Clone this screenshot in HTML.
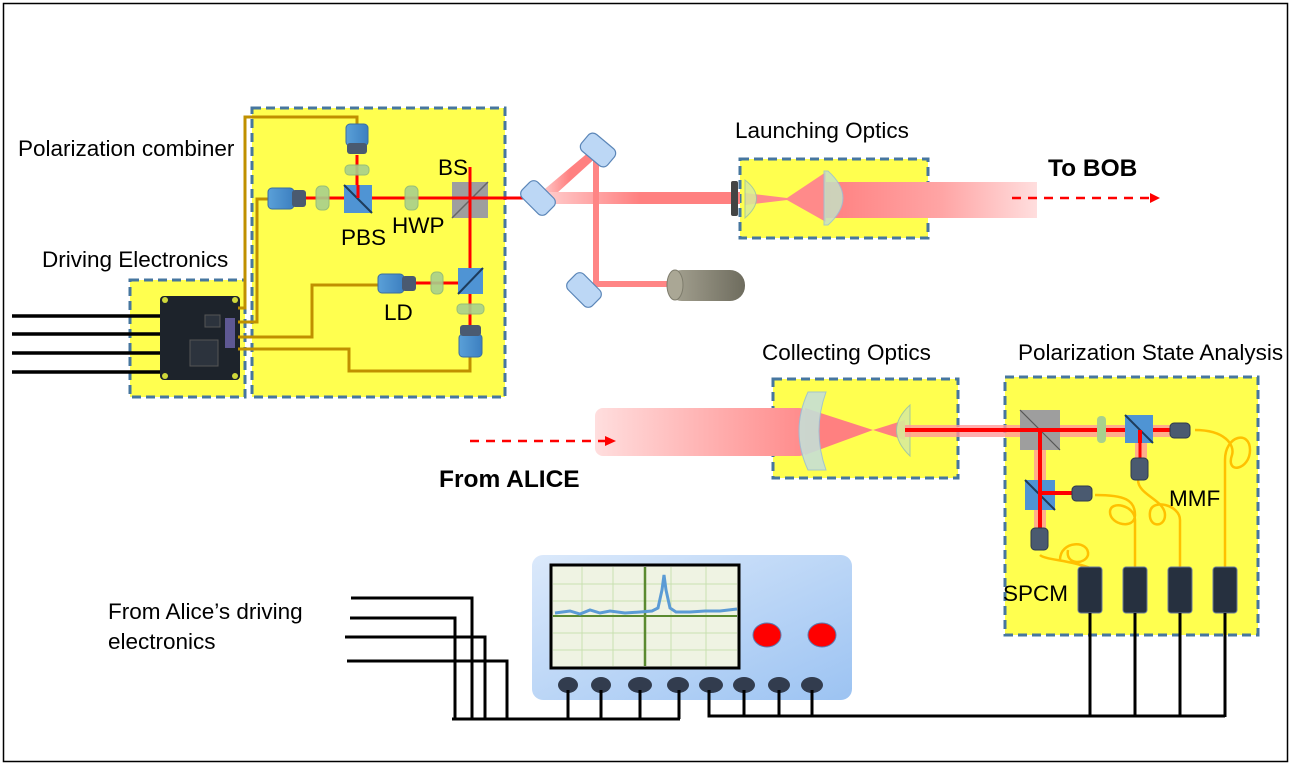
<!DOCTYPE html>
<html><head><meta charset="utf-8"><style>
html,body{margin:0;padding:0;background:#fff;}
svg{display:block;font-family:"Liberation Sans",sans-serif;}
</style></head><body>
<svg width="1290" height="776" viewBox="0 0 1290 776" xmlns="http://www.w3.org/2000/svg">
<defs>
<linearGradient id="fadeR" x1="0" x2="1"><stop offset="0" stop-color="#ff8080"/><stop offset="0.55" stop-color="#ffa5a5"/><stop offset="1" stop-color="#ffdede"/></linearGradient>
<linearGradient id="fadeL" x1="0" x2="1"><stop offset="0" stop-color="#ffdede"/><stop offset="1" stop-color="#ff8a8a"/></linearGradient>
<linearGradient id="pinkL" x1="0" x2="1"><stop offset="0" stop-color="#ffd0d0"/><stop offset="0.5" stop-color="#ff8080"/></linearGradient>
<linearGradient id="scope" x1="0" y1="0" x2="1" y2="1"><stop offset="0" stop-color="#dbe9fb"/><stop offset="1" stop-color="#9cc3f2"/></linearGradient>
<linearGradient id="cyl" x1="0" x2="1"><stop offset="0" stop-color="#a8a594"/><stop offset="1" stop-color="#6e6c5e"/></linearGradient>
<linearGradient id="det" x1="0" x2="1"><stop offset="0" stop-color="#5aa0d8"/><stop offset="1" stop-color="#3c7fc0"/></linearGradient>
</defs>
<rect x="3.5" y="3.5" width="1284" height="758" fill="#fff" stroke="#000" stroke-width="1.5"/>

<g fill="#ffff4f" stroke="#46769f" stroke-width="3" stroke-dasharray="9,5">
<rect x="130" y="280" width="115" height="117"/>
<rect x="252" y="108" width="253" height="289"/>
<rect x="740" y="159" width="188" height="79"/>
<rect x="773" y="379" width="185" height="99"/>
<rect x="1005" y="377" width="253" height="258"/>
</g>

<g stroke="#000" stroke-width="3.5">
<line x1="12" y1="316" x2="162" y2="316"/><line x1="12" y1="334" x2="162" y2="334"/>
<line x1="12" y1="353" x2="162" y2="353"/><line x1="12" y1="372" x2="162" y2="372"/>
</g>

<rect x="160" y="296" width="80" height="84" rx="4" fill="#1d232b"/>
<rect x="190" y="340" width="28" height="26" fill="#2c333d" stroke="#555" stroke-width="1"/>
<rect x="205" y="315" width="15" height="12" fill="#2c333d" stroke="#555" stroke-width="1"/>
<g fill="#cfd83a"><circle cx="165" cy="300" r="3"/><circle cx="235" cy="300" r="3"/><circle cx="165" cy="376" r="3"/><circle cx="235" cy="376" r="3"/></g>
<rect x="225" y="318" width="10" height="30" fill="#7a6fc0" opacity="0.7"/>

<g fill="none" stroke="#c09000" stroke-width="3">
<polyline points="238,308 245,308 245,117 357,117 357,127"/>
<polyline points="238,322 257,322 257,199 270,199"/>
<polyline points="238,337 312,337 312,285 380,285"/>
<polyline points="238,349 349,349 349,371 470,371 470,356"/>
</g>

<g stroke="#ff0000" stroke-width="3">
<line x1="305" y1="198" x2="540" y2="198"/>
<line x1="357" y1="155" x2="357" y2="198"/>
<line x1="470" y1="167" x2="470" y2="328"/>
<line x1="416" y1="283" x2="470" y2="283"/>
</g>
<rect x="346" y="124" width="22" height="22" rx="4" fill="url(#det)" stroke="#3a6ea0"/>
<rect x="347" y="143" width="20" height="11" rx="3" fill="#4a5a70"/>
<rect x="268" y="188" width="26" height="21" rx="4" fill="url(#det)" stroke="#3a6ea0"/>
<rect x="292" y="190" width="14" height="17" rx="3" fill="#4a5a70"/>
<rect x="378" y="274" width="26" height="19" rx="4" fill="url(#det)" stroke="#3a6ea0"/>
<rect x="402" y="276" width="14" height="15" rx="3" fill="#4a5a70"/>
<rect x="459" y="334" width="23" height="23" rx="4" fill="url(#det)" stroke="#3a6ea0"/>
<rect x="460" y="325" width="21" height="11" rx="3" fill="#4a5a70"/>
<g fill="#a8d08d" stroke="#8fb87a" opacity="0.9">
<rect x="316" y="186" width="13" height="24" rx="5"/>
<rect x="405" y="186" width="13" height="24" rx="5"/>
<rect x="345" y="165" width="24" height="10" rx="4"/>
<rect x="431" y="272" width="12" height="22" rx="5"/>
<rect x="457" y="304" width="27" height="10" rx="4"/>
</g>
<rect x="344" y="185" width="28" height="28" fill="#4f94d4"/>
<line x1="344" y1="185" x2="372" y2="213" stroke="#1e3c5c" stroke-width="2"/>
<rect x="458" y="268" width="25" height="26" fill="#4f94d4"/>
<line x1="458" y1="294" x2="483" y2="268" stroke="#1e3c5c" stroke-width="2"/>
<rect x="452" y="182" width="36" height="36" fill="#9e9e9e"/>
<line x1="452" y1="218" x2="488" y2="182" stroke="#666" stroke-width="1.5"/>
<g stroke="#ff0000" stroke-width="3"><line x1="452" y1="198" x2="540" y2="198"/><line x1="470" y1="182" x2="470" y2="218"/><line x1="358" y1="185" x2="358" y2="198"/></g>

<polygon points="540,193 596,146 600,154 546,203" fill="url(#pinkL)"/>
<rect x="540" y="192" width="200" height="12" fill="url(#pinkL)"/>
<rect x="593" y="150" width="6" height="136" fill="#ff8585"/>
<rect x="593" y="281" width="85" height="6" fill="#ff8585"/>
<g fill="#bcd7f5" stroke="#5b86b8" stroke-width="1.2">
<rect x="521" y="187" width="34" height="22" rx="6" transform="rotate(45 538 198)"/>
<rect x="581" y="139" width="34" height="22" rx="6" transform="rotate(40 598 150)"/>
<rect x="567" y="279" width="34" height="22" rx="6" transform="rotate(45 584 290)"/>
</g>
<rect x="667" y="270" width="78" height="31" rx="15" fill="url(#cyl)"/>
<ellipse cx="675" cy="285" rx="8" ry="15" fill="#aaa795" stroke="#7e7c6c"/>
<rect x="826" y="182" width="211" height="36" fill="url(#fadeR)"/>
<polygon points="745,193 787,198 826,172 826,222 787,200 745,205" fill="#ff8a8a"/>
<rect x="731" y="181" width="7" height="35" rx="2" fill="#444"/>
<path d="M745,180 Q768,198 745,218 Z" fill="#d9ec9a" stroke="#9bc3a8" opacity="0.85"/>
<path d="M828,171 Q858,198 828,225 L824,225 L824,171 Z" fill="#c5e0c4" stroke="#9bbfd8" opacity="0.85"/>
<line x1="1012" y1="198" x2="1150" y2="198" stroke="#ff0000" stroke-width="2.5" stroke-dasharray="9,7"/>
<polygon points="1160,198 1150,193 1150,203" fill="#ff0000"/>

<rect x="595" y="408" width="212" height="48" rx="8" fill="url(#fadeL)"/>
<polygon points="805,408 873,430 805,455" fill="#ff8080"/>
<polygon points="873,430 905,420 905,440" fill="#ff8080"/>
<path d="M808,392 Q790,431 808,470 L826,470 Q812,431 826,392 Z" fill="#c6dfd6" stroke="#9bbfd8" opacity="0.9"/>
<path d="M910,405 Q883,430 910,456 Z" fill="#d9ec9a" stroke="#9bc3a8" opacity="0.9"/>
<line x1="470" y1="441" x2="605" y2="441" stroke="#ff0000" stroke-width="2.5" stroke-dasharray="9,7"/>
<polygon points="616,441 605,436 605,446" fill="#ff0000"/>

<rect x="905" y="425" width="265" height="12" fill="#ff9a9a" opacity="0.8"/>
<line x1="905" y1="430" x2="1170" y2="430" stroke="#ff0000" stroke-width="4"/>
<rect x="1034" y="430" width="12" height="100" fill="#ff9a9a" opacity="0.8"/>
<line x1="1040" y1="430" x2="1040" y2="528" stroke="#ff0000" stroke-width="4"/>
<rect x="1135" y="430" width="12" height="28" fill="#ff9a9a" opacity="0.8"/>
<line x1="1140" y1="430" x2="1140" y2="458" stroke="#ff0000" stroke-width="3"/>
<line x1="1040" y1="493" x2="1072" y2="493" stroke="#ff0000" stroke-width="4"/>
<rect x="1020" y="410" width="40" height="40" fill="#9e9e9e"/>
<line x1="1020" y1="410" x2="1060" y2="450" stroke="#555" stroke-width="1.2"/>
<g stroke="#ff0000" stroke-width="4"><line x1="1020" y1="430" x2="1060" y2="430"/><line x1="1040" y1="430" x2="1040" y2="450"/></g>
<rect x="1097" y="416" width="9" height="27" rx="4" fill="#a8d08d"/>
<rect x="1125" y="415" width="28" height="28" fill="#4f94d4"/>
<line x1="1125" y1="415" x2="1153" y2="443" stroke="#1e3c5c" stroke-width="2"/>
<rect x="1025" y="480" width="30" height="30" fill="#4f94d4"/>
<line x1="1025" y1="480" x2="1055" y2="510" stroke="#1e3c5c" stroke-width="2"/>
<g stroke="#ff0000" stroke-width="4"><line x1="1140" y1="430" x2="1140" y2="443"/><line x1="1040" y1="480" x2="1040" y2="510"/><line x1="1040" y1="493" x2="1055" y2="493"/></g>
<g fill="none" stroke="#ffc000" stroke-width="2.5">
<path d="M1195,430 C1225,430 1235,445 1232,455 C1225,475 1250,470 1250,450 C1250,430 1225,435 1225,460 L1225,568"/>
<path d="M1095,495 C1125,495 1135,500 1135,515 C1135,530 1110,525 1110,512 C1110,500 1135,505 1135,520 L1135,568"/>
<path d="M1138,480 C1138,495 1165,500 1165,515 C1165,528 1148,528 1150,512 C1152,498 1180,505 1180,520 L1180,568"/>
<path d="M1040,555 C1045,560 1070,560 1090,568 M1060,560 C1060,540 1090,540 1088,555 C1085,565 1065,565 1068,550"/>
</g>
<g fill="#4a5a70" stroke="#2e3a4c">
<rect x="1170" y="423" width="20" height="15" rx="4"/>
<rect x="1131" y="458" width="17" height="22" rx="4"/>
<rect x="1072" y="486" width="20" height="15" rx="4"/>
<rect x="1031" y="528" width="17" height="22" rx="4"/>
</g>
<g fill="#26303f" stroke="#6a7a99" stroke-width="1">
<rect x="1078" y="567" width="24" height="46" rx="3"/>
<rect x="1123" y="567" width="24" height="46" rx="3"/>
<rect x="1168" y="567" width="24" height="46" rx="3"/>
<rect x="1213" y="567" width="24" height="46" rx="3"/>
</g>

<rect x="532" y="555" width="320" height="145" rx="11" fill="url(#scope)"/>
<rect x="551" y="565" width="188" height="103" fill="#eff3e3" stroke="#000" stroke-width="3"/>
<g stroke="#c8e0b0" stroke-width="1">
<line x1="582" y1="567" x2="582" y2="666"/><line x1="613" y1="567" x2="613" y2="666"/><line x1="671" y1="567" x2="671" y2="666"/><line x1="706" y1="567" x2="706" y2="666"/>
<line x1="553" y1="584" x2="737" y2="584"/><line x1="553" y1="601" x2="737" y2="601"/><line x1="553" y1="633" x2="737" y2="633"/><line x1="553" y1="650" x2="737" y2="650"/>
</g>
<line x1="645" y1="567" x2="645" y2="666" stroke="#5a8a30" stroke-width="2.5"/>
<line x1="553" y1="616" x2="737" y2="616" stroke="#5a8a30" stroke-width="2"/>
<polyline points="555,613 570,611 580,614 590,610 600,613 610,611 625,613 640,612 652,611 658,608 662,590 664,575 666,590 670,608 676,612 690,612 705,611 720,611 737,609" fill="none" stroke="#5b9bd5" stroke-width="3"/>
<ellipse cx="767" cy="635" rx="14" ry="12" fill="#ff0000" stroke="#5a7ab0"/>
<ellipse cx="822" cy="635" rx="14" ry="12" fill="#ff0000" stroke="#5a7ab0"/>
<g fill="#323c4e">
<ellipse cx="568" cy="685" rx="10" ry="8"/><ellipse cx="601" cy="685" rx="10" ry="8"/><ellipse cx="640" cy="685" rx="12" ry="8"/><ellipse cx="678" cy="685" rx="11" ry="8"/>
<ellipse cx="711" cy="685" rx="12" ry="8"/><ellipse cx="744" cy="685" rx="11" ry="8"/><ellipse cx="779" cy="685" rx="11" ry="8"/><ellipse cx="812" cy="685" rx="11" ry="8"/>
</g>
<g fill="none" stroke="#000" stroke-width="3">
<polyline points="351,598 472,598 472,719"/>
<polyline points="350,618 455,618 455,719"/>
<polyline points="345,637 485,637 485,719"/>
<polyline points="347,661 507,661 507,719"/>
<line x1="452" y1="719" x2="680" y2="719"/>
<line x1="568" y1="690" x2="568" y2="719"/><line x1="601" y1="690" x2="601" y2="719"/><line x1="640" y1="690" x2="640" y2="719"/><line x1="679" y1="690" x2="679" y2="719"/>
<polyline points="709,690 709,716 1225,716"/>
<line x1="744" y1="690" x2="744" y2="716"/><line x1="779" y1="690" x2="779" y2="716"/><line x1="812" y1="690" x2="812" y2="716"/>
<line x1="1090" y1="613" x2="1090" y2="716"/><line x1="1135" y1="613" x2="1135" y2="716"/><line x1="1180" y1="613" x2="1180" y2="716"/><line x1="1225" y1="613" x2="1225" y2="717"/>
</g>

<g font-size="22.5" fill="#000">
<text x="18" y="156">Polarization combiner</text>
<text x="42" y="267">Driving Electronics</text>
<text x="341" y="245">PBS</text>
<text x="392" y="233">HWP</text>
<text x="438" y="175">BS</text>
<text x="384" y="320">LD</text>
<text x="735" y="138">Launching Optics</text>
<text x="762" y="360">Collecting Optics</text>
<text x="1018" y="360">Polarization State Analysis</text>
<text x="1169" y="506">MMF</text>
<text x="1003" y="601">SPCM</text>
<text x="108" y="619">From Alice’s driving</text>
<text x="108" y="649">electronics</text>
</g>
<text x="1048" y="176" font-size="24.5" font-weight="bold">To BOB</text>
<text x="439" y="487" font-size="24.5" font-weight="bold">From ALICE</text>
</svg>
</body></html>
